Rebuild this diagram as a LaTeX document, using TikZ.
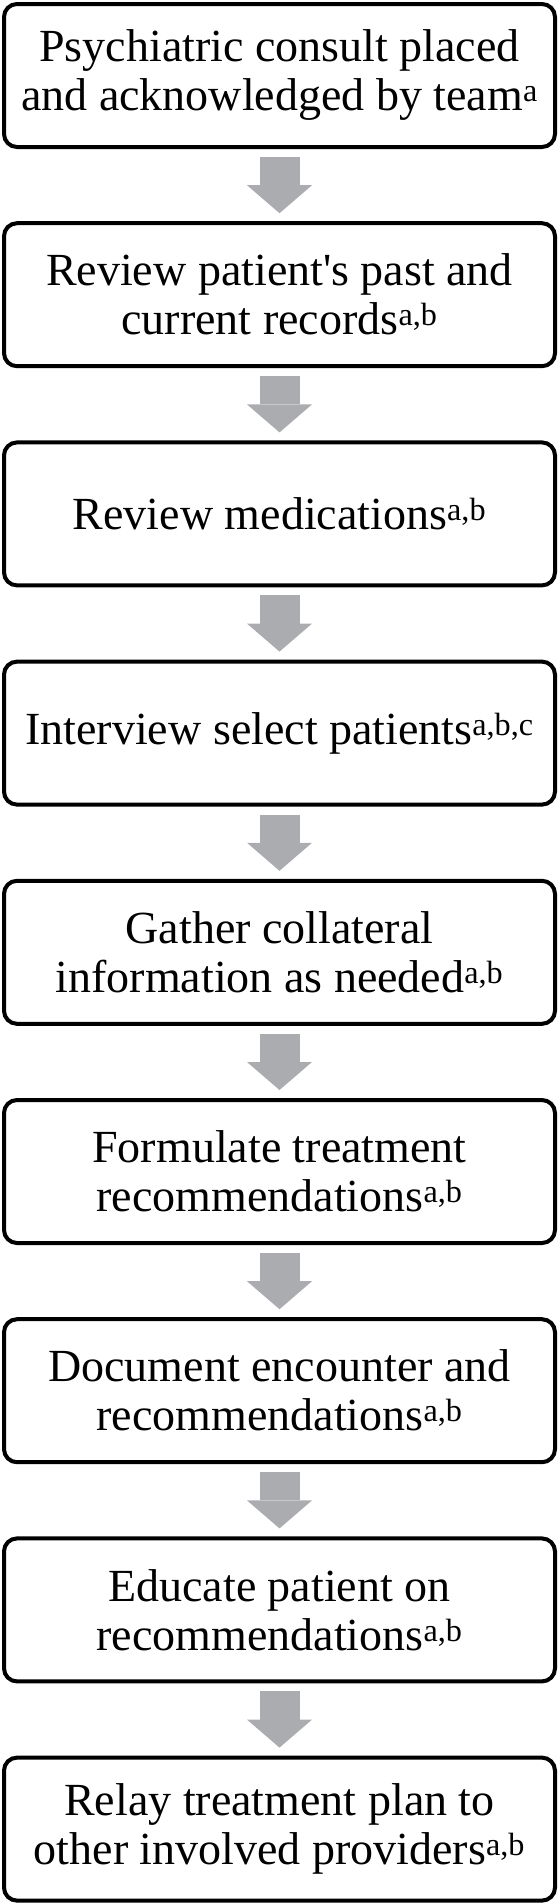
\documentclass[tikz,border=0pt]{standalone}
\usepackage{fontspec}
\setmainfont{Liberation Serif}
\usepackage{tikz}
\usetikzlibrary{arrows.meta, positioning}
\definecolor{arrowgray}{RGB}{170,172,176}

\begin{document}
\begin{tikzpicture}[
    node distance=72.2pt,
    stepbox/.style={draw, line width=4pt, rounded corners=13pt, align=center,
        minimum width=551pt, minimum height=143pt, inner sep=0pt,
        font=\fontsize{46}{49}\selectfont},
    fatarr/.style={draw=arrowgray, line width=40pt,
        -{Triangle[length=28pt, width=65pt, line width=0pt]},
        shorten <=8pt, shorten >=8pt}
]
\useasboundingbox (0pt,0pt) rectangle (559pt,-1904pt);
\node[stepbox] (consult) at (279.5pt,-75.5pt) {Psychiatric consult placed\\and acknowledged by team\textsuperscript{a}};
\node[stepbox, below=of consult] (records) {Review patient\textquotesingle s past and\\current records\textsuperscript{a,b}};
\node[stepbox, below=of records] (meds) {Review medications\textsuperscript{a,b}};
\node[stepbox, below=of meds] (interview) {Interview select patients\textsuperscript{a,b,c}};
\node[stepbox, below=of interview] (collateral) {Gather collateral\\information as needed\textsuperscript{a,b}};
\node[stepbox, below=of collateral] (formulate) {Formulate treatment\\recommendations\textsuperscript{a,b}};
\node[stepbox, below=of formulate] (document) {Document encounter and\\recommendations\textsuperscript{a,b}};
\node[stepbox, below=of document] (educate) {Educate patient on\\recommendations\textsuperscript{a,b}};
\node[stepbox, below=of educate] (relay) {Relay treatment plan to\\other involved providers\textsuperscript{a,b}};

\draw[fatarr] (consult) -- (records);
\draw[fatarr] (records) -- (meds);
\draw[fatarr] (meds) -- (interview);
\draw[fatarr] (interview) -- (collateral);
\draw[fatarr] (collateral) -- (formulate);
\draw[fatarr] (formulate) -- (document);
\draw[fatarr] (document) -- (educate);
\draw[fatarr] (educate) -- (relay);
\end{tikzpicture}
\end{document}
